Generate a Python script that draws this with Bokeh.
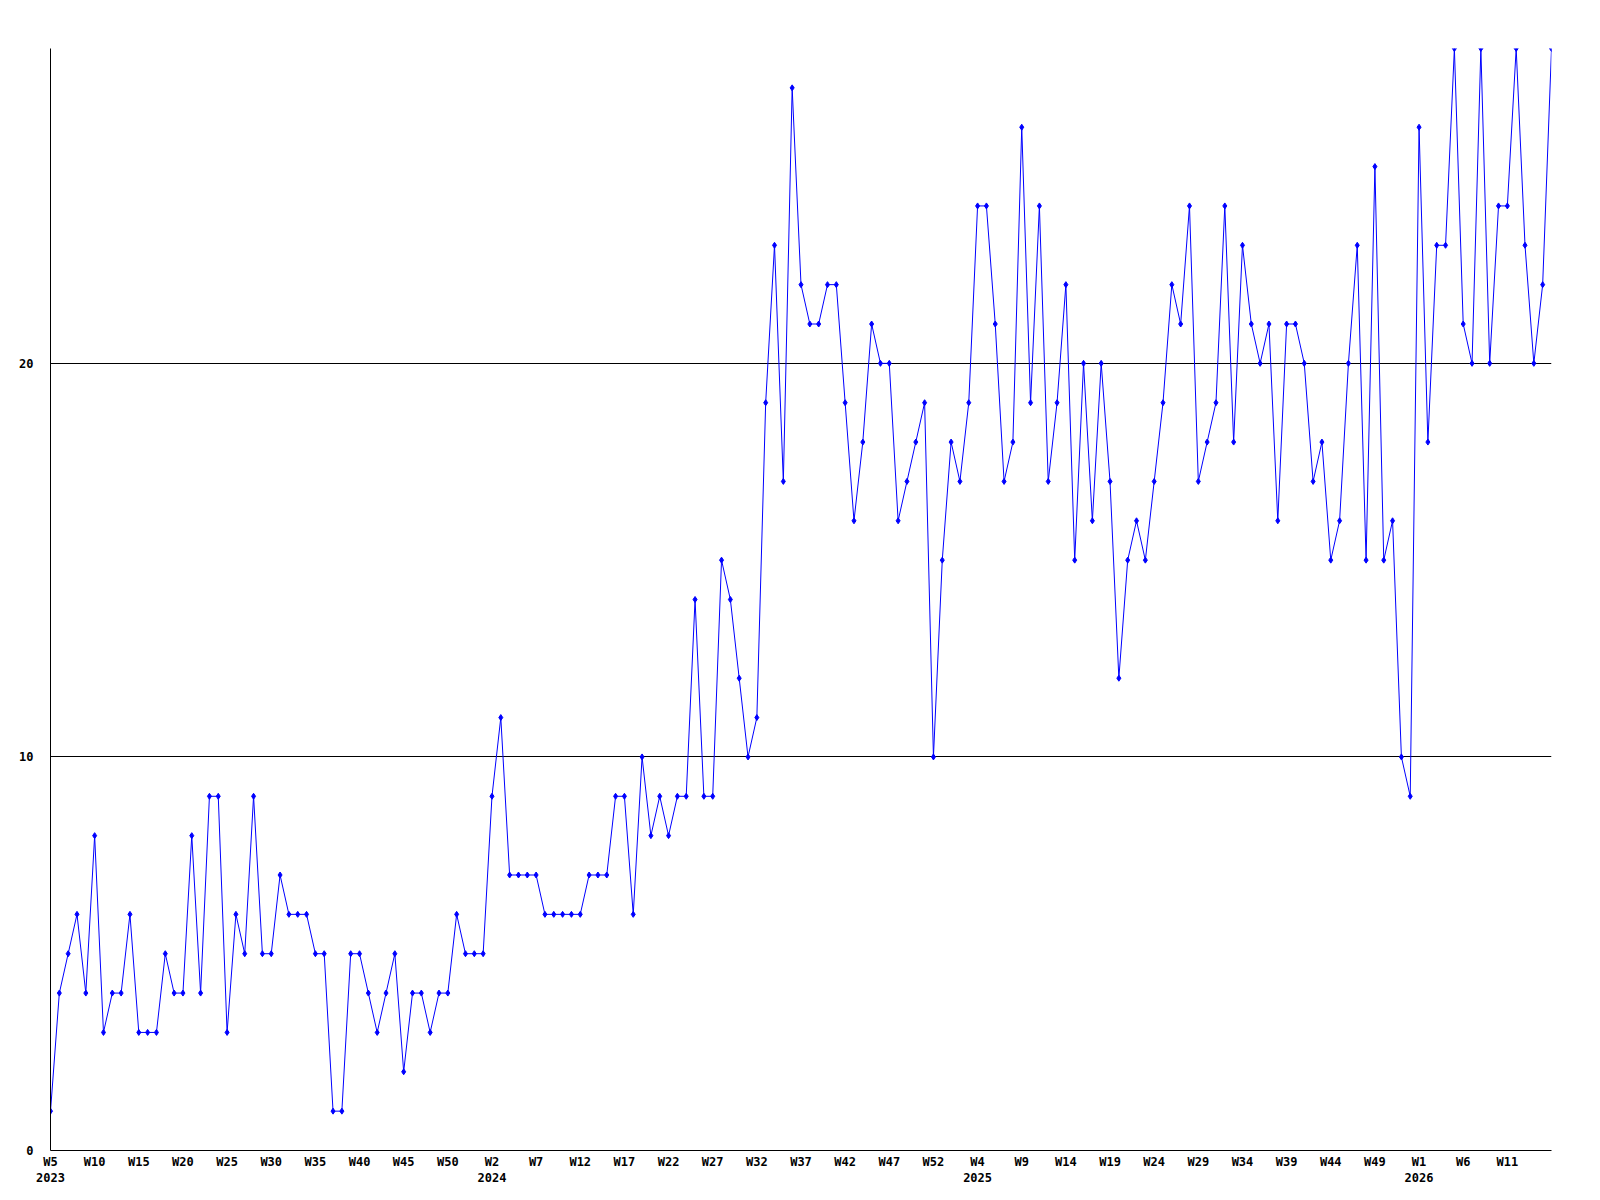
from bokeh.plotting import figure
from bokeh.models import Range1d, LinearAxis, FixedTicker, Grid
from bokeh.embed import file_html
from bokeh.resources import INLINE

# ---- data (weekly values, 2023 W5 .. 2026 W16) ----
values = [
    1, 4, 5, 6, 4, 8, 3, 4, 4, 6, 3, 3, 3, 5, 4, 4, 8, 4, 9, 9,
    3, 6, 5, 9, 5, 5, 7, 6, 6, 6, 5, 5, 1, 1, 5, 5, 4, 3, 4, 5,
    2, 4, 4, 3, 4, 4, 6, 5, 5, 5, 9, 11, 7, 7, 7, 7, 6, 6, 6, 6,
    6, 7, 7, 7, 9, 9, 6, 10, 8, 9, 8, 9, 9, 14, 9, 9, 15, 14, 12, 10,
    11, 19, 23, 17, 27, 22, 21, 21, 22, 22, 19, 16, 18, 21, 20, 20, 16, 17, 18, 19,
    10, 15, 18, 17, 19, 24, 24, 21, 17, 18, 26, 19, 24, 17, 19, 22, 15, 20, 16, 20,
    17, 12, 15, 16, 15, 17, 19, 22, 21, 24, 17, 18, 19, 24, 18, 23, 21, 20, 21, 16,
    21, 21, 20, 17, 18, 15, 16, 20, 23, 15, 25, 15, 16, 10, 9, 26, 18, 23, 23, 28,
    21, 20, 28, 20, 24, 24, 28, 23, 20, 22, 28,
]
label_years = [2023, 2024, 2025, 2026]
first_weeks = [5, 1, 1, 1]
last_weeks = [53, 53, 53, 16]
y_ticks = [0, 10, 20]
grid_values = [10, 20]
y_max = 28

# week categories for each point
years, weeks = [], []
for yr, a, b in zip(label_years, first_weeks, last_weeks):
    for w in range(a, b + 1):
        years.append(yr)
        weeks.append(w)
n = len(values)
years, weeks = years[:n], weeks[:n]
xs = list(range(n))

week_ticks = list(range(0, n - 1, 5))
week_labels = {i: f"W{weeks[i]}" for i in week_ticks}
year_ticks, seen = [], set()
for i in week_ticks:
    if years[i] not in seen:
        seen.add(years[i])
        year_ticks.append(i)
year_labels = {i: str(years[i]) for i in year_ticks}

FONT = "DejaVu Sans Mono"
FS = "12px"

p = figure(width=1568, height=1192,
           x_range=Range1d(0, n - 1), y_range=Range1d(0, y_max),
           output_backend="svg", toolbar_location=None,
           x_axis_location=None, y_axis_location=None,
           min_border_left=50, min_border_right=17,
           min_border_top=48, min_border_bottom=42)
p.outline_line_color = None
p.background_fill_color = "white"
p.border_fill_color = "white"

# remove default grids, keep only the two horizontal reference lines
p.center = [r for r in p.center if not isinstance(r, Grid)]
grid = Grid(dimension=1, ticker=FixedTicker(ticks=grid_values),
            grid_line_color="black", grid_line_width=1)
p.add_layout(grid)

common = dict(major_tick_line_color=None, minor_tick_line_color=None,
              major_tick_out=0, major_tick_in=0,
              minor_tick_out=0, minor_tick_in=0,
              major_label_text_font=FONT,
              major_label_text_font_style="bold",
              major_label_text_font_size=FS,
              major_label_text_color="black")

yaxis = LinearAxis(ticker=FixedTicker(ticks=y_ticks),
                   axis_line_color="black", axis_line_width=1,
                   major_label_standoff=17, **common)
p.add_layout(yaxis, "left")

xaxis = LinearAxis(ticker=FixedTicker(ticks=week_ticks),
                   major_label_overrides=week_labels,
                   axis_line_color="black", axis_line_width=1,
                   major_label_standoff=4, **common)
p.add_layout(xaxis, "below")

yearaxis = LinearAxis(ticker=FixedTicker(ticks=year_ticks),
                      major_label_overrides=year_labels,
                      axis_line_color=None,
                      major_label_standoff=1, **common)
p.add_layout(yearaxis, "below")

p.line(xs, values, line_color="#0000ff", line_width=1)
p.scatter(xs, values, marker="diamond", size=6,
          fill_color="#0000ff", line_color="#0000ff")

open("out.html", "w").write(file_html(p, INLINE))
